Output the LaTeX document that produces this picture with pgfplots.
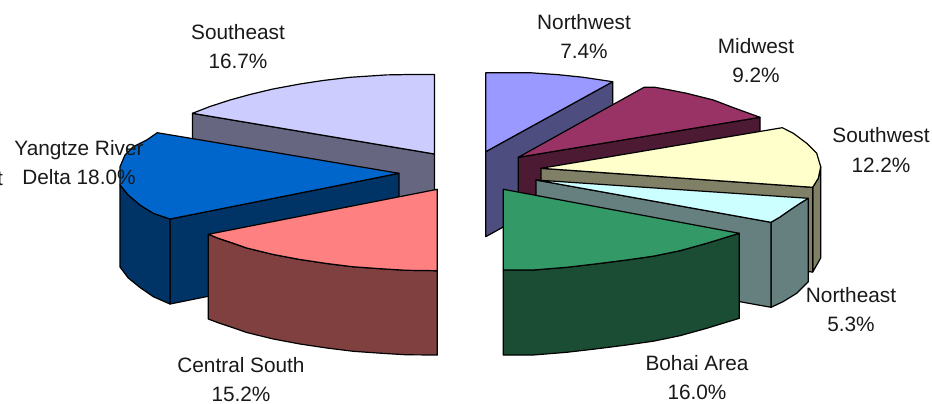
\documentclass[border=0pt]{standalone}
\usepackage{pgfplots}
\pgfplotsset{compat=1.18}
\usepackage{fontspec}
\setmainfont{Liberation Sans}
\definecolor{seTop}{HTML}{CCCCFF}\definecolor{seSide}{HTML}{666680}
\definecolor{yrTop}{HTML}{0066CC}\definecolor{yrSide}{HTML}{003366}
\definecolor{csTop}{HTML}{FF8080}\definecolor{csSide}{HTML}{804040}
\definecolor{nwTop}{HTML}{9999FF}\definecolor{nwSide}{HTML}{4D4D80}
\definecolor{mwTop}{HTML}{993366}\definecolor{mwSide}{HTML}{4D1A33}
\definecolor{swTop}{HTML}{FFFFCC}\definecolor{swSide}{HTML}{808066}
\definecolor{neTop}{HTML}{CCFFFF}\definecolor{neSide}{HTML}{668080}
\definecolor{baTop}{HTML}{339966}\definecolor{baSide}{HTML}{1A4D33}
\tikzset{lab/.style={align=center,font=\fontsize{20.8}{29.5}\selectfont,text=black!90,inner sep=0pt}}
\begin{document}
\begin{tikzpicture}
\path[use as bounding box,clip] (0,0) rectangle (932pt,404pt);
\begin{axis}[
  at={(0,0)},anchor=south west,scale only axis,width=932pt,height=404pt,
  xmin=0,xmax=932,ymin=0,ymax=404,y dir=reverse,hide axis,clip=false,
  every axis plot/.append style={draw=black,line width=1.2pt,line join=round,mark=none}]

% Southeast
\addplot[fill=seSide] coordinates {(192.5,113.3)(434.5,154)(434.5,239)(192.5,198)} --cycle;
\addplot[fill=seTop] coordinates {(434.5,154)(434.5,74.5)(410,74.5)(386.7,74.9)(350,77.3)(323,80.5)(300,84)(273,89)(250,94.5)(230,100)(210,106.5)(192.5,113.3)} --cycle;

% Yangtze River Delta
\addplot[fill=yrSide] coordinates {(170,219)(399,173.3)(399,258)(170,304)} --cycle;
\addplot[fill=yrSide] coordinates {(120,185)(128.3,195)(140,205)(153.3,213.3)(170,219)(170,304)(153.3,296.7)(140,287.5)(128.3,278)(120,267)} --cycle;
\addplot[fill=yrTop] coordinates {(399,173.3)(157.3,132.7)(146.7,140)(133.3,146.7)(125,155)(120,166.7)(120,185)(128.3,195)(140,205)(153.3,213.3)(170,219)} --cycle;

% Central South
\addplot[fill=csSide] coordinates {(208.3,234.3)(218.3,238.3)(233.3,243.3)(246.7,248)(273.3,254.5)(300,259.5)(326.7,263.5)(353.3,266.8)(383.3,268.9)(406.7,270.3)(437.3,270.7)(437.3,355)(406.7,354.8)(383.3,353.4)(353.3,351.3)(326.7,348)(300,344)(273.3,339)(246.7,332.5)(233.3,327.8)(218.3,322.8)(208.3,319)} --cycle;
\addplot[fill=csTop] coordinates {(437.3,189.3)(208.3,234.3)(218.3,238.3)(233.3,243.3)(246.7,248)(273.3,254.5)(300,259.5)(326.7,263.5)(353.3,266.8)(383.3,268.9)(406.7,270.3)(437.3,270.7)} --cycle;

% Northwest
\addplot[fill=nwSide] coordinates {(485.7,151.7)(612.7,81.7)(612.7,166.7)(485.7,236.7)} --cycle;
\addplot[fill=nwTop] coordinates {(485.7,151.7)(485.7,72.7)(530,72.7)(558.3,74.7)(583.3,77.3)(612.7,81.7)} --cycle;

% Midwest
\addplot[fill=mwSide] coordinates {(518.3,157.3)(760,117.3)(760,202)(518.3,242)} --cycle;
\addplot[fill=mwTop] coordinates {(518.3,157.3)(644,87.3)(655,87.3)(670,90)(686.7,93.3)(713.3,100)(733,107.5)(760,117.3)} --cycle;

% Southwest
\addplot[fill=swSide] coordinates {(812.7,187.3)(818.3,178.3)(820.7,166.7)(820.7,258)(815,268)(812.7,272)} --cycle;
\addplot[fill=swSide] coordinates {(541,168.3)(812.7,187.3)(812.7,272)(541,253)} --cycle;
\addplot[fill=swTop] coordinates {(541,168.3)(782.3,127.7)(793.3,133.3)(806.7,143.3)(816.7,153.3)(820.7,166.7)(818.3,178.3)(812.7,187.3)} --cycle;

% Northeast
\addplot[fill=neSide] coordinates {(771,222.3)(780,217)(790,210)(800,203.3)(808.3,198.3)(808.3,281.7)(796.7,293.3)(783,301.7)(771,307.3)} --cycle;
\addplot[fill=neSide] coordinates {(536,180)(771,222.3)(771,307.3)(536,265)} --cycle;
\addplot[fill=neTop] coordinates {(536,180)(808.3,198.3)(800,203.3)(790,210)(780,217)(771,222.3)} --cycle;

% Bohai Area
\addplot[fill=baSide] coordinates {(503.3,270)(533.3,270)(566.7,267.3)(596.7,263.8)(626.7,260)(653.3,256.2)(680,250.7)(706.7,243.3)(739.3,233.3)(739.3,318.3)(706.7,328.3)(680,335.7)(653.3,341.2)(626.7,345)(596.7,348.8)(566.7,352.3)(533.3,355)(503.3,355)} --cycle;
\addplot[fill=baTop] coordinates {(503.3,189.3)(503.3,270)(533.3,270)(566.7,267.3)(596.7,263.8)(626.7,260)(653.3,256.2)(680,250.7)(706.7,243.3)(739.3,233.3)} --cycle;

% Category labels with their shares
\node[lab] at (axis cs:238,46.5) {Southeast\\16.7\%};
\node[lab] at (axis cs:584,36.5) {Northwest\\7.4\%};
\node[lab] at (axis cs:756,60.5) {Midwest\\9.2\%};
\node[lab] at (axis cs:881,150) {Southwest\\12.2\%};
\node[lab] at (axis cs:79,162.5) {Yangtze River\\Delta 18.0\%};
\node[lab] at (axis cs:851,309.5) {Northeast\\5.3\%};
\node[lab] at (axis cs:697,377.5) {Bohai Area\\16.0\%};
\node[lab] at (axis cs:241,379.5) {Central South\\15.2\%};
\node[lab,anchor=east] at (axis cs:3,178) {West};
\end{axis}
\end{tikzpicture}
\end{document}
